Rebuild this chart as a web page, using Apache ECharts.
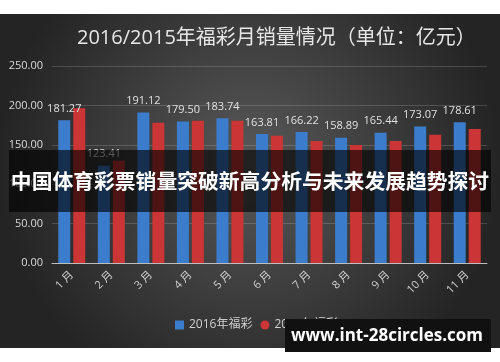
<!DOCTYPE html>
<html><head><meta charset="utf-8">
<script src="https://cdn.jsdelivr.net/npm/echarts@6/dist/echarts.min.js"></script>
<style>html,body{margin:0;padding:0;background:#fff}#c{width:500px;height:362px}</style>
</head><body><div id="c"></div>
<script>
const categories = ['1月','2月','3月','4月','5月','6月','7月','8月','9月','10月','11月'];
const sales2016 = [181.27,123.41,191.12,179.50,183.74,163.81,166.22,158.89,165.44,173.07,178.61];
const sales2015 = [196.5,129.8,178.0,180.5,180.5,161.5,154.8,149.7,154.8,162.8,170.0];
const yTicks = {min:0,max:250,interval:50};

const chart = echarts.init(document.getElementById('c'));
const font = '"Open Sans","Noto Sans CJK SC",sans-serif';
chart.setOption({
  animation:false,
  textStyle:{fontFamily:font},
  title:{text:'2016/2015年福彩月销量情况（单位：亿元）',left:72,top:23,
    textStyle:{color:'#e6e6e6',fontSize:20,fontWeight:'normal',fontFamily:font}},
  legend:{bottom:26,left:170,itemWidth:9,itemHeight:9,itemGap:8,
    textStyle:{color:'#cfcfcf',fontSize:12,fontFamily:font},
    data:[{name:'2016年福彩',icon:'rect'},{name:'2015年福彩',icon:'circle'}]},
  grid:{left:52,right:13,top:66,bottom:99},
  xAxis:{type:'category',data:categories,
    axisLine:{lineStyle:{color:'#bdbdbd',width:1}},axisTick:{show:false},
    axisLabel:{rotate:45,color:'#cfcfcf',fontSize:11,margin:10,
      formatter:v=>v.replace('月',' 月')}},
  yAxis:{type:'value',min:yTicks.min,max:yTicks.max,interval:yTicks.interval,
    axisLabel:{color:'#d8d8d8',fontSize:11,margin:9,formatter:v=>v.toFixed(2)},
    splitLine:{lineStyle:{color:'rgba(255,255,255,0.16)'}},axisLine:{show:false}},
  series:[
    {name:'2016年福彩',type:'bar',data:sales2016,barWidth:12,barGap:'25%',
     itemStyle:{color:'#3b7ccd'},
     label:{show:true,position:'top',distance:6,color:'#e0e0e0',fontSize:11,formatter:p=>p.value.toFixed(2)}},
    {name:'2015年福彩',type:'bar',data:sales2015,barWidth:12,
     itemStyle:{color:'#cc3535'}}
  ],
  graphic:[
    {type:'rect',z:-10,silent:true,shape:{x:0,y:14,width:500,height:334},
     style:{fill:new echarts.graphic.RadialGradient(0.5,0.45,0.75,[
       {offset:0,color:'#595959'},{offset:1,color:'#242424'}])}},
    {type:'rect',z:100,silent:true,shape:{x:9,y:150,width:482,height:62},
     style:{fill:'rgba(0,0,0,0.62)'}},
    {type:'text',z:101,silent:true,x:250,y:181,
     style:{text:'中国体育彩票销量突破新高分析与未来发展趋势探讨',fill:'#fff',
       font:'bold 20.8px "Noto Sans CJK SC",sans-serif',align:'center',verticalAlign:'middle'}},
    {type:'rect',z:100,silent:true,shape:{x:285,y:319,width:206,height:33},
     style:{fill:'#111'}},
    {type:'text',z:101,silent:true,x:387,y:336,
     style:{text:'www.int-28circles.com',fill:'#fff',
       font:'bold 17px "Open Sans",sans-serif',align:'center',verticalAlign:'middle'}}
  ]
});
</script></body></html>
